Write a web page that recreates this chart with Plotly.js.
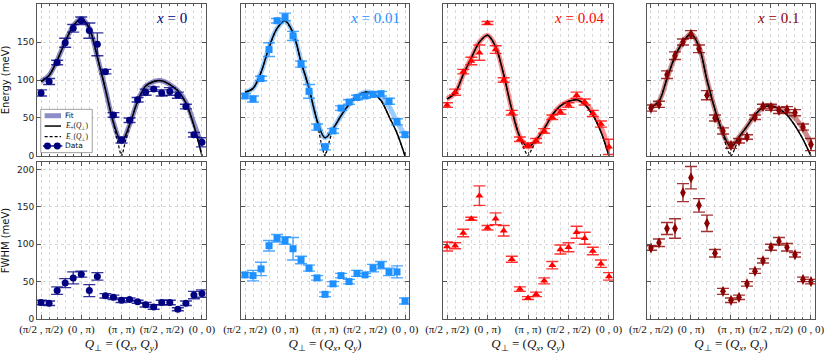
<!DOCTYPE html>
<html>
<head>
<meta charset="utf-8">
<script src="https://cdn.plot.ly/plotly-3.0.1.min.js"></script>
<style>
html, body { margin: 0; padding: 0; background: #fff; }
#chart { width: 830px; height: 355px; }
</style>
</head>
<body>
<div id="chart"></div>
<script>
// path through the zone, one step per measured Q
const qIdx = [0,1,2,3,4,5,6,7,8,9,10,11,12,13,14,15,16,17,18,19,20]
// same path with two extra samples around (pi,pi) for the E- cusp
const qDip = [0,1,2,3,4,5,6,7,8,9,9.5,10,10.5,11,12,13,14,15,16,17,18,19,20]
const tickPos = [0,5,10,15,20]
const tickText = ['(π/2 , π/2)','(0 , π)','(π , π)','(π/2 , π/2)','(0 , 0)']

const dopings = ['0','0.01','0.04','0.1']
const colors = ['#000080','#1e90ff','#ff0000','#8b0000']
const rgb = ['0,0,128','30,144,255','255,0,0','139,0,0']
const symbols = ['circle','square','triangle-up','diamond-tall']

// magnon energy (meV)
const energy_x0   = [83, 98, 123, 149, 168, 178, 165, 147, 111, 54, 21, 47, 74, 84, 88, 83, 85, 80, 65, 28, 18]
const energyErr_x0 = [4, 4, 3, 6, 5, 5, 10, 15, 3, 3, 4, 3, 3, 4, 3, 4, 5, 4, 3, 3, 6]
const energy_x01  = [79, 75, 102, 140, 178, 183, 158, 121, 85, 38, 12, 33, 63, 71, 77, 79, 81, 82, 72, 45, 28]
const energyErr_x01 = [3, 4, 3, 9, 3, 5, 6, 4, 9, 4, 4, 3, 3, 3, 3, 3, 3, 3, 4, 4, 3]
const energy_x04  = [67, 84, 111, 125, 136, 175, 140, 100, 57, 22, 14, 20, 33, 51, 58, 67, 80, 71, 56, 42, 12]
const energyErr_x04 = [3, 4, 3, 5, 10, 2, 5, 3, 3, 3, 3, 3, 3, 3, 3, 3, 4, 4, 4, 4, 10]
const energy_x1   = [63, 68, 107, 132, 150, 160, 141, 80, 50, 33, 14, 20, 25, 51, 65, 64, 60, 61, 57, 38, 15]
const energyErr_x1 = [4, 4, 5, 5, 4, 5, 5, 6, 4, 4, 4, 3, 3, 3, 3, 4, 4, 4, 4, 4, 8]

// E+ and E- dispersions, fit curve
const ePlus_x0  = [98, 106, 126, 150, 171, 181, 168, 130, 88, 44, 19, 41, 72, 92, 98, 99, 94, 86, 70, 40, 0]
const eMinus_x0 = [98, 106, 126, 150, 171, 181, 168, 130, 88, 43, 20, 0, 20, 40, 72, 92, 98, 99, 94, 86, 70, 40, 0]
const fit_x0    = [98, 106, 126, 150, 171, 181, 168, 130, 88, 44, 19, 41, 72, 92, 98, 99, 94, 86, 71, 43, 14]
const ePlus_x01  = [84, 89, 110, 143, 168, 178, 162, 124, 89, 47, 24, 36, 53, 68, 79, 84, 82, 73, 52, 30, 0]
const eMinus_x01 = [84, 89, 110, 143, 168, 178, 162, 124, 89, 46, 18, 0, 18, 35, 53, 68, 79, 84, 82, 73, 52, 30, 0]
const fit_x01    = [84, 89, 110, 143, 168, 178, 162, 124, 89, 47, 24, 36, 53, 68, 79, 84, 83, 78, 65, 45, 27]
const ePlus_x04  = [75, 83, 107, 129, 150, 159, 144, 107, 61, 25, 12, 21, 36, 54, 66, 72, 74, 68, 54, 32, 0]
const eMinus_x04 = [75, 83, 107, 129, 150, 159, 144, 107, 61, 24, 10, 0, 10, 20, 36, 54, 66, 72, 74, 68, 54, 32, 0]
const fit_x04    = [75, 83, 107, 129, 150, 159, 144, 107, 61, 25, 12, 21, 36, 54, 66, 72, 74, 70, 57, 38, 8]
const ePlus_x1  = [64, 72, 102, 131, 150, 161, 144, 100, 61, 30, 12, 25, 39, 54, 64, 66, 62, 54, 40, 22, 0]
const eMinus_x1 = [64, 72, 102, 131, 150, 161, 144, 100, 61, 29, 10, 0, 10, 24, 39, 54, 64, 66, 62, 54, 40, 22, 0]
const fit_x1    = [64, 72, 102, 131, 150, 161, 144, 100, 61, 30, 12, 25, 39, 54, 64, 66, 62, 58, 50, 36, 16]

// damping FWHM (meV)
const fwhm_x0   = [22, 21, 38, 48, 55, 60, 38, 57, 31, 29, 25, 26, 23, 19, 16, 22, 22, 13, 21, 32, 34]
const fwhmErr_x0 = [3, 3, 5, 6, 8, 4, 8, 5, 3, 3, 3, 2, 2, 3, 3, 3, 3, 2, 3, 5, 5]
const fwhm_x01  = [59, 58, 67, 98, 108, 105, 94, 79, 68, 55, 33, 47, 58, 50, 61, 59, 68, 72, 63, 63, 24]
const fwhmErr_x01 = [3, 7, 9, 7, 5, 5, 15, 5, 4, 3, 3, 3, 3, 3, 4, 2, 5, 5, 5, 8, 4]
const fwhm_x04  = [97, 98, 115, 134, 165, 122, 134, 118, 80, 40, 28, 33, 51, 72, 93, 96, 116, 108, 91, 74, 57]
const fwhmErr_x04 = [6, 4, 5, 2, 13, 3, 8, 7, 4, 3, 2, 3, 4, 5, 6, 6, 8, 8, 5, 5, 5]
const fwhm_x1   = [95, 102, 121, 121, 169, 189, 152, 128, 88, 37, 25, 29, 47, 64, 78, 96, 104, 96, 86, 53, 50]
const fwhmErr_x1 = [3, 5, 8, 13, 12, 15, 9, 11, 5, 4, 3, 3, 3, 3, 3, 4, 5, 5, 3, 3, 3]

const energy = [energy_x0, energy_x01, energy_x04, energy_x1]
const energyErr = [energyErr_x0, energyErr_x01, energyErr_x04, energyErr_x1]
const ePlus = [ePlus_x0, ePlus_x01, ePlus_x04, ePlus_x1]
const eMinus = [eMinus_x0, eMinus_x01, eMinus_x04, eMinus_x1]
const fit = [fit_x0, fit_x01, fit_x04, fit_x1]
const fwhm = [fwhm_x0, fwhm_x01, fwhm_x04, fwhm_x1]
const fwhmErr = [fwhmErr_x0, fwhmErr_x01, fwhmErr_x04, fwhmErr_x1]

const colDomains = [[0.0446, 0.2482], [0.2904, 0.4928], [0.5337, 0.7386], [0.7795, 0.9819]]
const rowDomains = [[0.5606, 0.9887], [0.1014, 0.5437]]

function axName(n) { return n === 1 ? '' : String(n) }

function dataTrace(i, n, y, err) {
    return {
        x: qIdx, y: y, xaxis: 'x' + axName(n), yaxis: 'y' + axName(n),
        type: 'scatter', mode: 'markers', showlegend: false,
        marker: { symbol: symbols[i], size: symbols[i] === 'diamond-tall' ? 8 : 7, color: colors[i] },
        error_y: { type: 'data', array: err, visible: true, color: 'rgba(' + rgb[i] + ',0.8)', thickness: 1.4, width: 6 }
    }
}

let traces = []
for (let i = 0; i < 4; i++) {
    let n = i + 1
    let ax = { xaxis: 'x' + axName(n), yaxis: 'y' + axName(n), type: 'scatter', mode: 'lines', showlegend: false, hoverinfo: 'skip' }
    traces.push(Object.assign({ x: qIdx, y: fit[i], line: { color: 'rgba(' + rgb[i] + ',0.45)', width: 5, shape: 'spline', smoothing: 1 } }, ax))
    traces.push(Object.assign({ x: qDip, y: eMinus[i], line: { color: '#000', width: 1.2, dash: '3px,2px', shape: 'spline', smoothing: 0.6 } }, ax))
    traces.push(Object.assign({ x: qIdx, y: ePlus[i], line: { color: '#000', width: 1.5, shape: 'spline', smoothing: 1 } }, ax))
    traces.push(dataTrace(i, n, energy[i], energyErr[i]))
    traces.push(dataTrace(i, n + 4, fwhm[i], fwhmErr[i]))
}

const gridStyle = { showgrid: true, gridcolor: '#cfcfcf', griddash: 'dot', gridwidth: 0.8 }

let layout = {
    width: 830, height: 355,
    margin: { l: 0, r: 0, t: 0, b: 0 },
    paper_bgcolor: '#fff', plot_bgcolor: '#fff',
    font: { family: 'DejaVu Sans', size: 9, color: '#222' },
    shapes: [], annotations: []
}

for (let row = 0; row < 2; row++) {
    for (let col = 0; col < 4; col++) {
        let n = row * 4 + col + 1
        let xa = Object.assign({
            domain: colDomains[col], anchor: 'y' + axName(n), range: [-0.5, 20.5],
            tickvals: tickPos, ticktext: tickText, showticklabels: row === 1,
            tickfont: { family: 'Liberation Serif', size: 11, color: '#111' },
            ticks: 'inside', ticklen: 4, tickcolor: '#555',
            showline: true, linecolor: '#555', linewidth: 1, mirror: 'ticks', zeroline: false,
            minor: Object.assign({ dtick: 1, tick0: 0, ticks: 'inside', ticklen: 2, tickcolor: '#555' }, gridStyle)
        }, gridStyle)
        if (row === 1) xa.title = { text: '<i>Q</i><sub>⊥</sub> = (<i>Q<sub>x</sub></i>, <i>Q<sub>y</sub></i>)', font: { family: 'Liberation Serif', size: 13, color: '#111' }, standoff: 1 }
        layout['xaxis' + axName(n)] = xa
        let ya = Object.assign({
            domain: rowDomains[row], anchor: 'x' + axName(n), range: row === 0 ? [0, 200] : [0, 210],
            tickvals: [0, 50, 100, 150, 200], showticklabels: col === 0,
            ticks: 'inside', ticklen: 4, tickcolor: '#555',
            showline: true, linecolor: '#555', linewidth: 1, mirror: 'ticks', zeroline: false
        }, gridStyle)
        if (col === 0) ya.title = { text: row === 0 ? 'Energy (meV)' : 'FWHM (meV)', font: { family: 'DejaVu Sans', size: 10, color: '#111' }, standoff: 8 }
        layout['yaxis' + axName(n)] = ya
    }
}

// doping labels
const labelX = [0.796, 0.80, 0.797, 0.777]
for (let i = 0; i < 4; i++) {
    layout.annotations.push({
        text: '<i>x</i> = ' + dopings[i], xref: 'x' + axName(i + 1) + ' domain', yref: 'y' + axName(i + 1) + ' domain',
        x: labelX[i], y: 0.908, showarrow: false, xanchor: 'center', yanchor: 'middle',
        font: { family: 'Liberation Serif', size: 15, color: colors[i] }
    })
}

// legend box in the first panel
const lx = 'x domain', ly = 'y domain'
layout.shapes.push({ type: 'rect', xref: lx, yref: ly, x0: 0.022, x1: 0.327, y0: 0.022, y1: 0.307, fillcolor: '#fff', line: { color: '#888', width: 0.8 }, layer: 'above' })
layout.shapes.push({ type: 'line', xref: lx, yref: ly, x0: 0.045, x1: 0.142, y0: 0.265, y1: 0.265, line: { color: 'rgba(0,0,128,0.45)', width: 5 }, layer: 'above' })
layout.shapes.push({ type: 'line', xref: lx, yref: ly, x0: 0.045, x1: 0.142, y0: 0.197, y1: 0.197, line: { color: '#000', width: 1.5 }, layer: 'above' })
layout.shapes.push({ type: 'line', xref: lx, yref: ly, x0: 0.045, x1: 0.142, y0: 0.127, y1: 0.127, line: { color: '#000', width: 1.2, dash: '3px,2px' }, layer: 'above' })
layout.shapes.push({ type: 'line', xref: lx, yref: ly, x0: 0.035, x1: 0.150, y0: 0.066, y1: 0.066, line: { color: '#000080', width: 1.4 }, layer: 'above' })
for (let cx of [0.062, 0.120]) {
    layout.shapes.push({ type: 'circle', xref: lx, yref: ly, x0: cx - 0.0207, x1: cx + 0.0207, y0: 0.043, y1: 0.089, fillcolor: '#000080', line: { color: '#000080', width: 0 }, layer: 'above' })
}
const legendText = ['Fit', '<i>E</i><sub>+</sub>(<i>Q</i><sub>⊥</sub>)', '<i>E</i><sub>−</sub>(<i>Q</i><sub>⊥</sub>)', 'Data']
const legendY = [0.265, 0.197, 0.127, 0.066]
for (let k = 0; k < 4; k++) {
    layout.annotations.push({
        text: legendText[k], xref: lx, yref: ly, x: 0.156, y: legendY[k], showarrow: false, xanchor: 'left', yanchor: 'middle',
        font: { family: (k === 1 || k === 2) ? 'Liberation Serif' : 'DejaVu Sans', size: 7.5, color: '#111' }
    })
}

Plotly.newPlot('chart', traces, layout, { displayModeBar: false, staticPlot: true })
</script>
</body>
</html>
